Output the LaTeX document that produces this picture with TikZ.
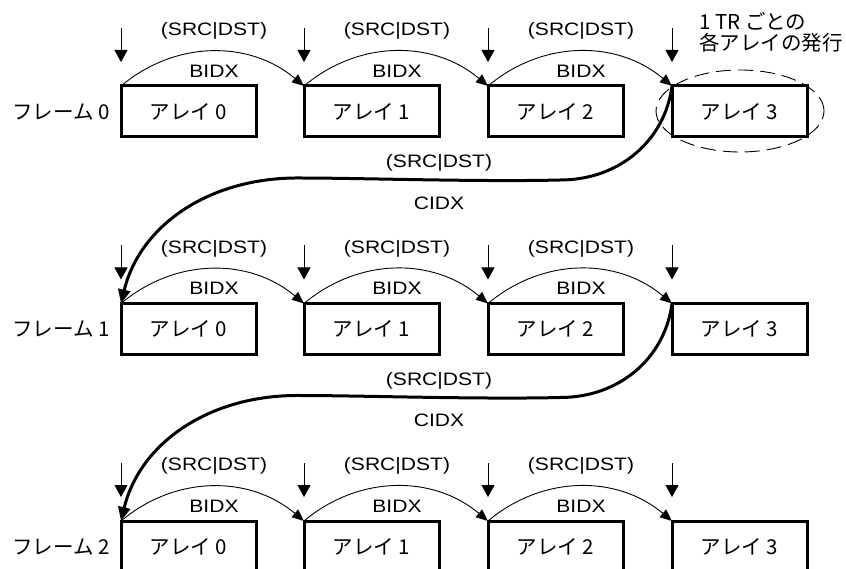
\documentclass[tikz,border=0pt]{standalone}
\usepackage{fontspec}
\setmainfont{Liberation Sans}
\newfontfamily\latfont{Liberation Sans}[FakeStretch=1.17]
\newfontfamily\jpfont{Noto Sans CJK JP}
\usetikzlibrary{arrows.meta,shapes.geometric}

\tikzset{
  arraybox/.style={draw, line width=3pt, minimum width=135pt, minimum height=51pt,
    inner sep=0pt, outer sep=0pt, font=\jpfont\fontsize{20.5}{24}\selectfont},
  framelabel/.style={anchor=east, inner sep=0pt, font=\jpfont\fontsize{20.5}{24}\selectfont},
  idxlabel/.style={inner sep=0pt, font=\latfont\fontsize{18}{21}\selectfont},
  issue/.style={line width=1pt, -{Triangle[length=12pt, width=13pt]}},
  bidxarc/.style={line width=0.9pt, -{Triangle[length=12pt, width=10pt]}},
  cidxarc/.style={line width=3pt, -{Triangle[length=14pt, width=12pt]}},
  note/.style={anchor=west, inner sep=0pt, font=\jpfont\fontsize{20.5}{24}\selectfont},
}

\begin{document}
\begin{tikzpicture}[x=1pt, y=1pt]
\useasboundingbox (0,0) rectangle (846,-569);

% three frames, four arrays each
\foreach \r/\t in {0/86, 1/303.5, 2/521} {
  \node[framelabel] (f\r) at (110, -\t-25.5) {フレーム \r};
  \foreach \i/\l in {0/121, 1/304, 2/488, 3/672} {
    \node[arraybox] (b\r\i) at (\l+67.5, -\t-25.5) {アレイ \i};
    \coordinate (s\r\i) at (\l, -\t+58);
    \coordinate (e\r\i) at (\l, -\t+24);
    \draw[issue] (s\r\i) -- (e\r\i);
  }
  \foreach \i/\j/\l in {0/1/121, 1/2/304, 2/3/488} {
    \draw[bidxarc] (b\r\i.north west) to[bend left=40] (b\r\j.north west);
    \node[idxlabel] (src\r\i) at (\l+93, -\t+55) {(SRC|DST)};
    \node[idxlabel] (bidx\r\i) at (\l+93, -\t+15) {BIDX};
  }
}

% frame-to-frame links
\foreach \r/\s/\t in {0/1/86, 1/2/303.5} {
  \draw[cidxarc] (b\r3.north west)
    .. controls (665, -\t-54) and (620, -\t-94) .. (560, -\t-94)
    .. controls (480, -\t-96) and (360, -\t-92) .. (300, -\t-92)
    .. controls (210, -\t-91) and (140, -\t-139) .. (b\s0.north west);
  \node[idxlabel] (csrc\r) at (439, -\t-77) {(SRC|DST)};
  \node[idxlabel] (cidx\r) at (439, -\t-117) {CIDX};
}

% per-TR issue note
\node[draw, dashed, dash pattern=on 15pt off 7pt, line width=0.9pt, ellipse,
  minimum width=168pt, minimum height=82pt, inner sep=0pt] (ring) at (740, -111) {};
\node[note] (note1) at (699, -21) {1 TR ごとの};
\node[note] (note2) at (699, -43) {各アレイの発行};
\end{tikzpicture}
\end{document}
